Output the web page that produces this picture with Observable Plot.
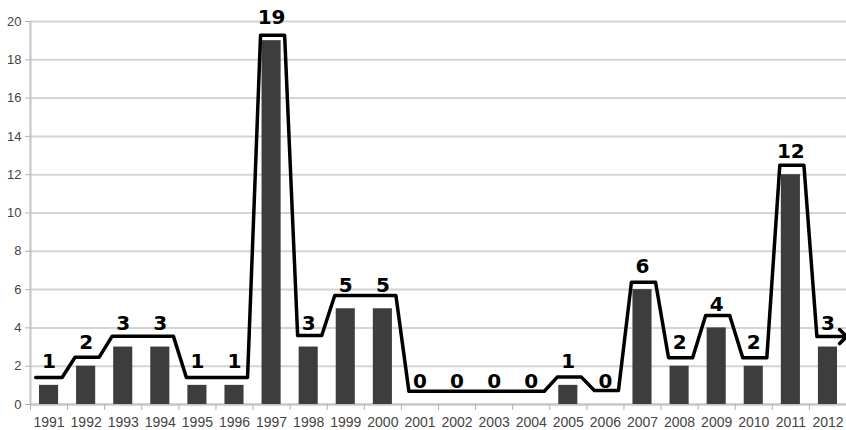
<!DOCTYPE html>
<html>
<head>
<meta charset="utf-8">
<script src="https://cdn.jsdelivr.net/npm/d3@7"></script>
<script src="https://cdn.jsdelivr.net/npm/@observablehq/plot@0.6"></script>
<style>
  html, body { margin: 0; padding: 0; background: #fff; }
  #chart svg { display: block; }
</style>
</head>
<body>
<div id="chart"></div>
<script>
// ---- data ----
const years = [1991, 1992, 1993, 1994, 1995, 1996, 1997, 1998, 1999, 2000, 2001,
               2002, 2003, 2004, 2005, 2006, 2007, 2008, 2009, 2010, 2011, 2012];
const counts = [1, 2, 3, 3, 1, 1, 19, 3, 5, 5, 0, 0, 0, 0, 1, 0, 6, 2, 4, 2, 12, 3];
// level of the hand-drawn outline above each bar
const lineLevels = [1.41, 2.47, 3.57, 3.57, 1.41, 1.41, 19.28, 3.6, 5.69, 5.69, 0.69,
                    0.69, 0.69, 0.69, 1.43, 0.73, 6.39, 2.44, 4.65, 2.44, 12.5, 3.55];
const labelTexts = ["1", "2", "3", "3", "1", "1", "19", "3", "5", "5", "0",
                    "0", "0", "0", "1", "0", "6", "2", "4", "2", "12", "3"];
const yTicks = [0, 2, 4, 6, 8, 10, 12, 14, 16, 18, 20];

// ---- tables built from the arrays ----
const rows = years.map((year, i) => ({year, count: counts[i], label: labelTexts[i]}));
const boundaries = [...years.map(y => y - 0.5), years[years.length - 1] + 0.5];

const W = 846, H = 430;
const mL = 30, mR = 0;
const band = (W - mL - mR) / years.length;
const A = 5.5 / band;   // transition starts this far before a band edge
const B = 7.5 / band;   // and ends this far after it

const outline = [];
years.forEach((y, i) => {
  const lv = lineLevels[i];
  if (i === 0) outline.push({x: y - 0.5 + 0.14, y: lv});
  else if (lineLevels[i - 1] !== lv) outline.push({x: y - 0.5 + B, y: lv});
  if (i === years.length - 1) outline.push({x: y + 0.41, y: lv});
  else if (lineLevels[i + 1] !== lv) outline.push({x: y + 0.5 - A, y: lv});
});

const tickFont = "'Liberation Sans Narrow', 'Arial Narrow', 'Liberation Sans', Arial, sans-serif";

const chart = Plot.plot({
  width: W,
  height: H,
  marginLeft: mL,
  marginRight: mR,
  marginTop: 21,
  marginBottom: 26,
  style: {background: "#fff", color: "#444"},
  x: {domain: [years[0] - 0.5, years[years.length - 1] + 0.5], axis: null},
  y: {domain: [0, 20], axis: null},
  marks: [
    Plot.gridY(yTicks, {stroke: "#d4d4d4", strokeOpacity: 1, strokeWidth: 2}),
    Plot.ruleX([years[0] - 0.5], {stroke: "#c4c4c4", strokeWidth: 2}),
    Plot.ruleY([0], {stroke: "#c4c4c4", strokeWidth: 2}),
    Plot.axisY({
      ticks: yTicks, tickSize: 5, tickPadding: 4, stroke: "#b0b0b0",
      fontSize: 13, fontFamily: "'Liberation Sans', Arial, sans-serif", fill: "#444"
    }),
    Plot.axisX({
      ticks: boundaries, tickSize: 6, stroke: "#b0b0b0", tickFormat: () => ""
    }),
    Plot.axisX({
      ticks: years, tickSize: 0, tickPadding: 13, tickFormat: d => String(d),
      fontSize: 14, fontFamily: tickFont, fill: "#444"
    }),
    Plot.rectY(rows, {
      x1: d => d.year - 0.5, x2: d => d.year + 0.5, y1: 0, y2: "count",
      insetLeft: 9, insetRight: 9, fill: "#3d3d3d"
    }),
    Plot.line(outline, {
      x: "x", y: "y", stroke: "#000", strokeWidth: 3.5,
      strokeLinejoin: "round", markerEnd: "arrow", curve: "linear"
    }),
    Plot.text(rows, {
      x: "year", y: "count", text: "label", lineAnchor: "bottom", dy: -17,
      fontSize: 20, fontWeight: "bold", fontFamily: "'DejaVu Sans', Verdana, sans-serif",
      fill: "#000"
    })
  ]
});

document.getElementById("chart").appendChild(chart);
</script>
</body>
</html>
